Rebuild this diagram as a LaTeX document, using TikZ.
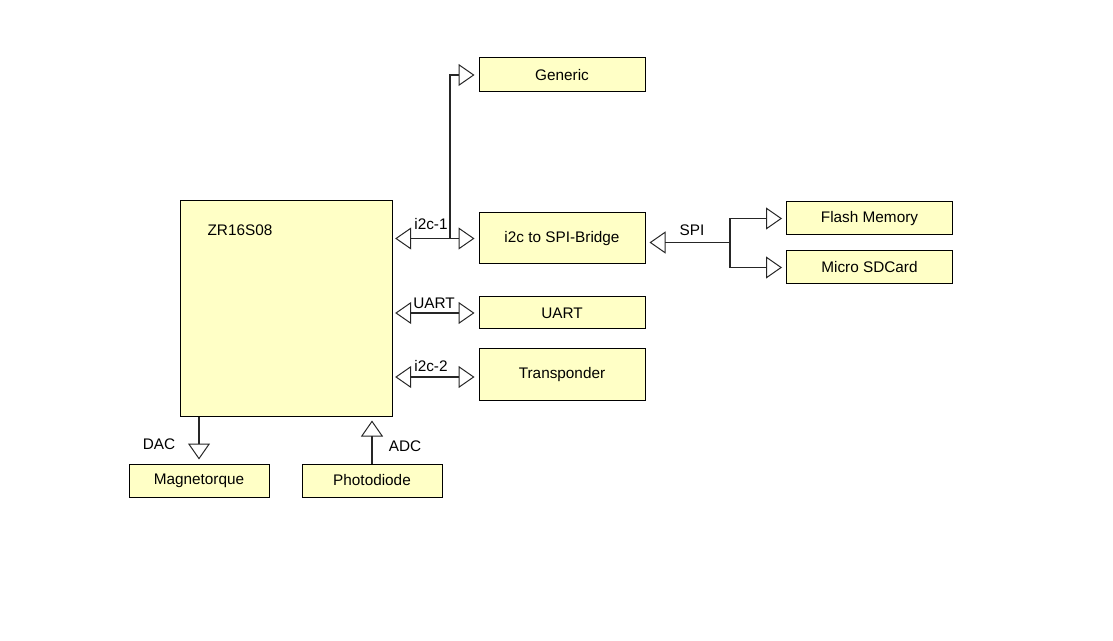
\documentclass[tikz,border=0pt]{standalone}
\usepackage{fontspec}
\setmainfont{Liberation Sans}
\usetikzlibrary{arrows.meta}
\definecolor{boxfill}{RGB}{255,255,198}
\tikzset{
  blk/.style={draw=black, fill=boxfill, line width=0.75pt, inner sep=0pt,
    minimum width=124.5pt, font=\fontsize{11.5}{13}\selectfont},
  sblk/.style={blk, minimum width=105pt, minimum height=24.75pt},
  lbl/.style={inner sep=0pt, font=\fontsize{11.5}{13}\selectfont},
  bus/.style={line width=1.1pt, draw=black!85,
    -{Triangle[open, length=12pt, width=16.5pt, line width=0.75pt]}, shorten >=3pt},
  bibus/.style={bus, {Triangle[open, length=12pt, width=16.5pt, line width=0.75pt]}-{Triangle[open, length=12pt, width=16.5pt, line width=0.75pt]}, shorten <=2pt}
}
\begin{document}
\begin{tikzpicture}[x=0.75pt, y=-0.75pt]
                \useasboundingbox (0,0) rectangle (1113,641);
                \node[blk, minimum width=159pt, minimum height=161.25pt] (zr) at (286,308.5) {};
                \node[lbl] (zrtext) at (240,230) {ZR16S08};
                \node[blk, minimum height=25.5pt] (generic) at (562,75) {Generic};
                \node[blk, minimum height=38.25pt] (bridge) at (562,238.5) {i2c to SPI-Bridge};
                \node[blk, minimum height=24pt] (uart) at (562,313) {UART};
                \node[blk, minimum height=38.25pt] (trans) at (562,374.5) {Transponder};
                \node[blk, minimum height=24.75pt] (flash) at (869.5,218.5) {Flash Memory};
                \node[blk, minimum height=24.75pt] (sd) at (869.5,267.5) {Micro SDCard};
                \node[sblk] (mag) at (199,480.5) {Magnetorque};
                \node[sblk] (photo) at (372,480.5) {Photodiode};
                \coordinate (jone) at (450,238.5);
                \coordinate (jspi) at (730,242.5);
                \draw[bibus] (zr.east |- bridge) -- (bridge.west);
                \draw[bus] (jone) |- (generic.west);
                \draw[bibus] (zr.east |- uart) -- (uart.west);
                \draw[bibus] (zr.east |- 0,377) -- (trans.west |- 0,377);
                \draw[bus] (jspi) -- (bridge.east |- jspi);
                \draw[bus] (jspi) |- (flash.west);
                \draw[bus] (jspi) |- (sd.west);
                \draw[bus] (zr.south -| mag) -- (mag.north);
                \draw[bus] (photo.north) -- (photo.north |- zr.south);
                \node[lbl] (lone) at (431,224) {i2c-1};
                \node[lbl] (luart) at (434,303) {UART};
                \node[lbl] (ltwo) at (431,366) {i2c-2};
                \node[lbl] (lspi) at (692,230) {SPI};
                \node[lbl] (ldac) at (159,444) {DAC};
                \node[lbl] (ladc) at (405,446) {ADC};
\end{tikzpicture}
\end{document}
